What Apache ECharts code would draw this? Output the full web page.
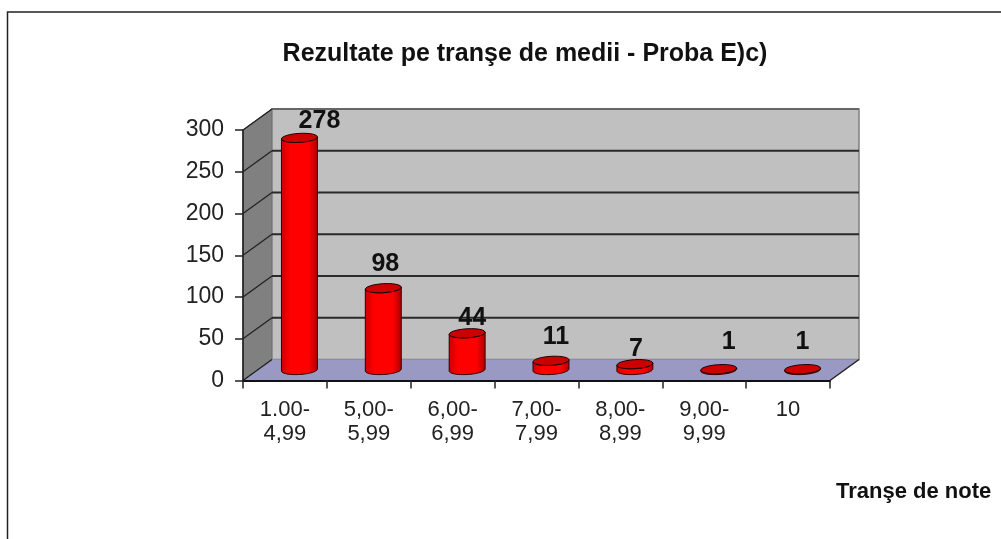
<!DOCTYPE html>
<html>
<head>
<meta charset="utf-8">
<style>
html,body{margin:0;padding:0;background:#fff}
#chart{width:1001px;height:539px}
</style>
<script src="https://cdn.jsdelivr.net/npm/echarts@6/dist/echarts.min.js"></script>
</head>
<body>
<div id="chart"></div>
<script>
var categories = ['1.00-\n4,99', '5,00-\n5,99', '6,00-\n6,99', '7,00-\n7,99', '8,00-\n8,99', '9,00-\n9,99', '10'];
var values = [278, 98, 44, 11, 7, 1, 1];
var yTicks = [0, 50, 100, 150, 200, 250, 300];

// adancimea 3D (in pixeli)
var depthX = 29, depthY = -21;
// etichetele sunt mutate de mana in original
var labelNudge = [[20, -17], [2, -24], [5, -15], [5, -24], [1, -15], [10, -27], [0, -27]];
var FONT = '"Liberation Sans", Arial, sans-serif';

var chart = echarts.init(document.getElementById('chart'));

function renderWalls(params, api) {
    var cs = params.coordSys;
    var x0 = cs.x, x1 = cs.x + cs.width;
    var yBottom = api.coord([0, 0])[1];
    var yTop = api.coord([0, 300])[1];
    var children = [
        // perete stanga
        {type: 'polygon', shape: {points: [[x0, yTop], [x0 + depthX, yTop + depthY], [x0 + depthX, yBottom + depthY], [x0, yBottom]]},
            style: {fill: '#808080', stroke: '#333', lineWidth: 1}},
        // perete spate
        {type: 'rect', shape: {x: x0 + depthX, y: yTop + depthY, width: cs.width, height: yBottom - yTop},
            style: {fill: '#c0c0c0', stroke: '#808080', lineWidth: 1.5}},
        // podea
        {type: 'polygon', shape: {points: [[x0, yBottom], [x0 + depthX, yBottom + depthY], [x1 + depthX, yBottom + depthY], [x1, yBottom]]},
            style: {fill: '#9999c4', stroke: null}},
        {type: 'line', shape: {x1: x1, y1: yBottom, x2: x1 + depthX, y2: yBottom + depthY},
            style: {stroke: '#222', lineWidth: 1.5}}
    ];
    yTicks.forEach(function (t) {
        var y = api.coord([0, t])[1];
        if (t > 0) {
            children.push({type: 'line', shape: {x1: x0 + depthX, y1: y + depthY, x2: x1 + depthX, y2: y + depthY},
                style: {stroke: t === 300 ? '#666' : '#2a2a2a', lineWidth: 2}});
        }
        children.push({type: 'line', shape: {x1: x0, y1: y, x2: x0 + depthX, y2: y + depthY},
            style: {stroke: '#222', lineWidth: 1.3}});
    });
    return {type: 'group', children: children};
}

// puncte pe elipsa inclinata
function arc(cx, cy, rx, ry, from, to) {
    var pts = [], tilt = -0.06;
    for (var i = 0; i <= 24; i++) {
        var a = from + (to - from) * i / 24;
        var px = rx * Math.cos(a), py = ry * Math.sin(a);
        pts.push([cx + px * Math.cos(tilt) - py * Math.sin(tilt), cy + px * Math.sin(tilt) + py * Math.cos(tilt)]);
    }
    return pts;
}

function renderBar(params, api) {
    var idx = api.value(0);
    var val = api.value(1);
    var top = api.coord([idx, val]);
    var base = api.coord([idx, 0]);
    var cx = top[0] + depthX / 2;
    var yTop = top[1] + depthY / 2;
    var yBase = base[1] + depthY / 2;
    var rx = 18, ry = 4.5;
    var body = arc(cx, yTop, rx, ry, Math.PI, 0).concat(arc(cx, yBase, rx, ry, 0, Math.PI));
    var nudge = labelNudge[params.dataIndex];
    return {type: 'group', children: [
        {type: 'polygon', shape: {points: body}, style: {
            fill: new echarts.graphic.LinearGradient(0, 0, 1, 0, [
                {offset: 0, color: '#c80000'},
                {offset: 0.25, color: '#ff0000'},
                {offset: 0.75, color: '#ff0000'},
                {offset: 1, color: '#a80000'}
            ]),
            stroke: '#300', lineWidth: 1
        }},
        {type: 'polygon', shape: {points: arc(cx, yTop, rx, ry, 0, Math.PI * 2)},
            style: {fill: '#cc0000', stroke: '#200', lineWidth: 1}},
        {type: 'text', x: cx + nudge[0], y: yTop + nudge[1], style: {
            text: String(val), fill: '#111', font: 'bold 25px ' + FONT, align: 'center', verticalAlign: 'middle'
        }}
    ]};
}

chart.setOption({
    animation: false,
    backgroundColor: '#fff',
    title: [
        {text: 'Rezultate pe tranşe de medii - Proba E)c)', left: 520, top: 37, textAlign: 'center',
            textStyle: {fontFamily: FONT, fontSize: 25, fontWeight: 'bold', color: '#111'}},
        {text: 'Tranşe de note', left: 831, top: 476,
            textStyle: {fontFamily: FONT, fontSize: 22, fontWeight: 'bold', color: '#111'}}
    ],
    graphic: [
        // chenarul imaginii
        {type: 'polyline', shape: {points: [[7.5, 539], [7.5, 12], [1001, 12]]}, style: {fill: null, stroke: '#222', lineWidth: 1.5}}
    ],
    grid: {left: 243, right: 171, top: 130, bottom: 158.5},
    xAxis: {
        type: 'category',
        data: categories,
        z: 5,
        axisLine: {lineStyle: {color: '#111', width: 2}},
        axisTick: {show: true, length: 8, lineStyle: {color: '#222', width: 1.5}},
        axisLabel: {interval: 0, margin: 17, fontFamily: FONT, fontSize: 22, lineHeight: 24, color: '#222'}
    },
    yAxis: {
        type: 'value',
        min: 0,
        max: 300,
        interval: 50,
        z: 5,
        splitLine: {show: false},
        axisLine: {show: true, lineStyle: {color: '#222', width: 1.5}},
        axisTick: {show: true, length: 8, lineStyle: {color: '#222', width: 1.5}},
        axisLabel: {margin: 19, fontFamily: FONT, fontSize: 23, color: '#222'}
    },
    series: [
        {type: 'custom', z: 1, silent: true, data: [0], renderItem: renderWalls},
        {type: 'custom', z: 3, encode: {x: 0, y: 1},
            data: values.map(function (v, i) { return [i, v]; }), renderItem: renderBar}
    ]
});
</script>
</body>
</html>
